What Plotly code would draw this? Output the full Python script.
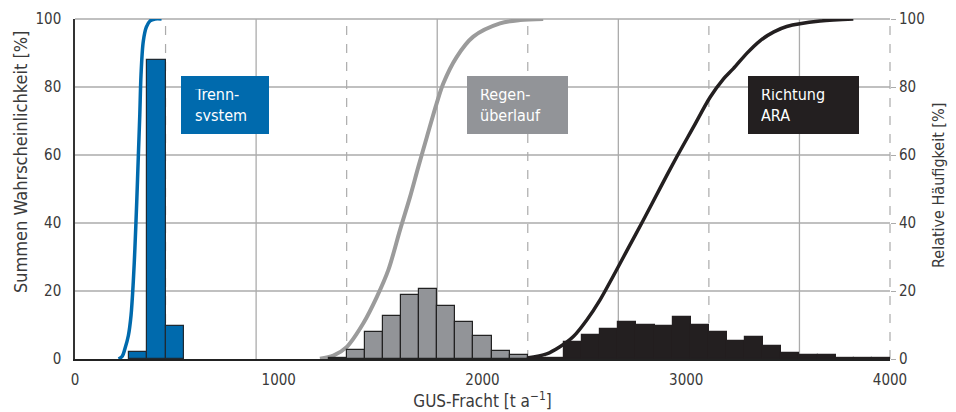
import plotly.graph_objects as go

# ---------------- data ----------------
BIN_W = 4000 / 45  # histogram bin width [t/a]

# Trennsystem
trenn_bin_start = 266.7
trenn_freq = [2.2, 88.0, 9.8]
trenn_cdf_x = [214, 232, 245, 262, 275, 286, 294, 303, 311, 318, 324, 335, 350, 368, 393, 425]
trenn_cdf_y = [0.0, 0.8, 3.0, 6.9, 12.8, 22.6, 32.5, 46.2, 60.0, 71.8, 83.6, 93.4, 97.6, 99.4, 100, 100]

# Regenüberlauf
regen_bin_start = 1244.4
regen_freq = [0.3, 2.7, 7.8, 12.7, 18.7, 20.6, 15.5, 10.9, 6.8, 2.5, 1.1]
regen_cdf_x = [1202, 1268, 1333, 1415, 1481, 1538, 1595, 1644, 1685, 1727, 1775, 1808,
               1873, 1955, 2086, 2184, 2298]
regen_cdf_y = [0.1, 1.0, 3.5, 10.5, 18.2, 26.2, 37.9, 47.6, 56.5, 65.3, 75.2, 81.1,
               88.8, 94.8, 98.7, 99.7, 100]

# Richtung ARA
ara_bin_start = 2222.2
ara_freq = [0.3, 0.3, 4.9, 7.2, 8.7, 10.8, 10.1, 9.8, 12.4, 10.0, 7.9, 5.2, 6.6, 3.7,
            1.9, 1.3, 1.3, 0.4, 0.4, 0.2]
ara_cdf_x = [2218, 2315, 2380, 2446, 2511, 2577, 2640, 2708, 2789, 2871, 2953,
             3035, 3117, 3180, 3231, 3297, 3362, 3430, 3493, 3657, 3820]
ara_cdf_y = [0.3, 1.5, 3.6, 6.6, 11.4, 17.4, 24.2, 31.8, 40.8, 50.2, 59.4,
             68.2, 77.0, 82.2, 85.4, 89.9, 93.6, 96.2, 97.8, 99.4, 100]

x_ticks = [0, 1000, 2000, 3000, 4000]
y_ticks = [0, 20, 40, 60, 80, 100]

# ---------------- style ----------------
BLUE = "#006AAD"
GRAY_BAR = "#929498"
GRAY_LINE = "#9B9B9B"
BLACK = "#231F20"
GRID = "#ABABAB"
TXT = "#3A3A3A"
FONT = "Liberation Sans Narrow, DejaVu Sans Condensed, Arial Narrow, sans-serif"

PAGE_OFF = 8  # default body margin of the html page
W, H = 956 - PAGE_OFF, 412 - PAGE_OFF
L, R, T, B = 75 - PAGE_OFF, 66, 19 - PAGE_OFF, 53
X_MAX, Y_MAX = 4000, 100


def centers(start, n):
    return [start + (i + 0.5) * BIN_W for i in range(n)]


fig = go.Figure()

for start, vals, col, line_col in [
    (trenn_bin_start, trenn_freq, BLUE, "#1f2a33"),
    (regen_bin_start, regen_freq, GRAY_BAR, "#222222"),
    (ara_bin_start, ara_freq, BLACK, BLACK),
]:
    fig.add_trace(go.Bar(
        x=centers(start, len(vals)), y=vals, width=BIN_W,
        marker=dict(color=col, line=dict(color=line_col, width=1.2)),
        yaxis="y2", showlegend=False, hoverinfo="skip"))

for xs, ys, col, w in [
    (trenn_cdf_x, trenn_cdf_y, BLUE, 3.5),
    (regen_cdf_x, regen_cdf_y, GRAY_LINE, 4),
    (ara_cdf_x, ara_cdf_y, BLACK, 3.5),
]:
    fig.add_trace(go.Scatter(
        x=xs, y=ys, mode="lines", line=dict(color=col, width=w, shape="spline", smoothing=0.9),
        showlegend=False, hoverinfo="skip"))

# grid lines: horizontal solid; vertical every 4000/9 alternating dashed/solid
shapes = []
for v in y_ticks[1:]:
    shapes.append(dict(type="line", xref="paper", yref="paper", x0=0, x1=1,
                       y0=v / Y_MAX, y1=v / Y_MAX,
                       line=dict(color=GRID, width=1.3), layer="below"))
for k in range(1, 10):
    shapes.append(dict(type="line", xref="paper", yref="paper", x0=k / 9, x1=k / 9, y0=0, y1=1,
                       line=dict(color=GRID, width=1.3 if k % 2 == 0 else 1.2,
                                 dash="solid" if k % 2 == 0 else "dash"),
                       layer="below"))


# label boxes
def box(text, x, color, w):
    return dict(text=text, x=x, y=83.3, xref="x", yref="y", xanchor="left", yanchor="top",
                showarrow=False, align="left", valign="middle", bgcolor=color,
                borderpad=13, borderwidth=0, width=w - 26, height=58 - 26,
                font=dict(family=FONT, size=16, color="white"))


annotations = [
    box("Trenn-<br>system", 520, BLUE, 88),
    box("Regen-<br>überlauf", 1922, GRAY_BAR, 101),
    box("Richtung<br>ARA", 3303, BLACK, 111),
    dict(text="Summen Wahrscheinlichkeit [%]", x=20, y=162, xref="paper", yref="paper",
         showarrow=False, textangle=-90, xanchor="center", yanchor="middle",
         font=dict(family=FONT, size=18, color=TXT)),
    dict(text="Relative Häufigkeit [%]", x=938, y=186, xref="paper", yref="paper",
         showarrow=False, textangle=-90, xanchor="center", yanchor="middle",
         font=dict(family=FONT, size=16, color=TXT)),
]
# convert screen pixel positions for axis titles to paper coords
for a in annotations[3:]:
    a["x"] = (a["x"] - PAGE_OFF - L) / (W - L - R)
    a["y"] = 1 - (a["y"] - PAGE_OFF - T) / (H - T - B)

fig.update_layout(
    template="none",
    width=W, height=H,
    margin=dict(l=L, r=R, t=T, b=B, autoexpand=False),
    paper_bgcolor="white", plot_bgcolor="white",
    font=dict(family=FONT, size=15, color=TXT),
    bargap=0,
    barmode="overlay",
    shapes=shapes,
    annotations=annotations,
    xaxis=dict(range=[0, X_MAX], tickvals=x_ticks, showgrid=False, zeroline=False,
               automargin=False,
               showline=True, linecolor="#222222", linewidth=1.5, ticks="",
               ticklabelstandoff=6,
               title=dict(text="GUS-Fracht [t a<sup>−1</sup>]", standoff=4,
                          font=dict(size=17))),
    yaxis=dict(range=[0, Y_MAX], tickvals=y_ticks, showgrid=False, zeroline=False,
               automargin=False,
               showline=True, linecolor="#333333", linewidth=1.5, ticks="",
               ticklabelstandoff=9),
    yaxis2=dict(range=[0, Y_MAX], tickvals=y_ticks, overlaying="y", side="right",
                automargin=False,
                showgrid=False, zeroline=False, showline=False,
                ticks="outside", ticklen=5, tickcolor=GRID, tickwidth=1.2,
                ticklabelstandoff=0),
)

fig.write_html("out.html")
